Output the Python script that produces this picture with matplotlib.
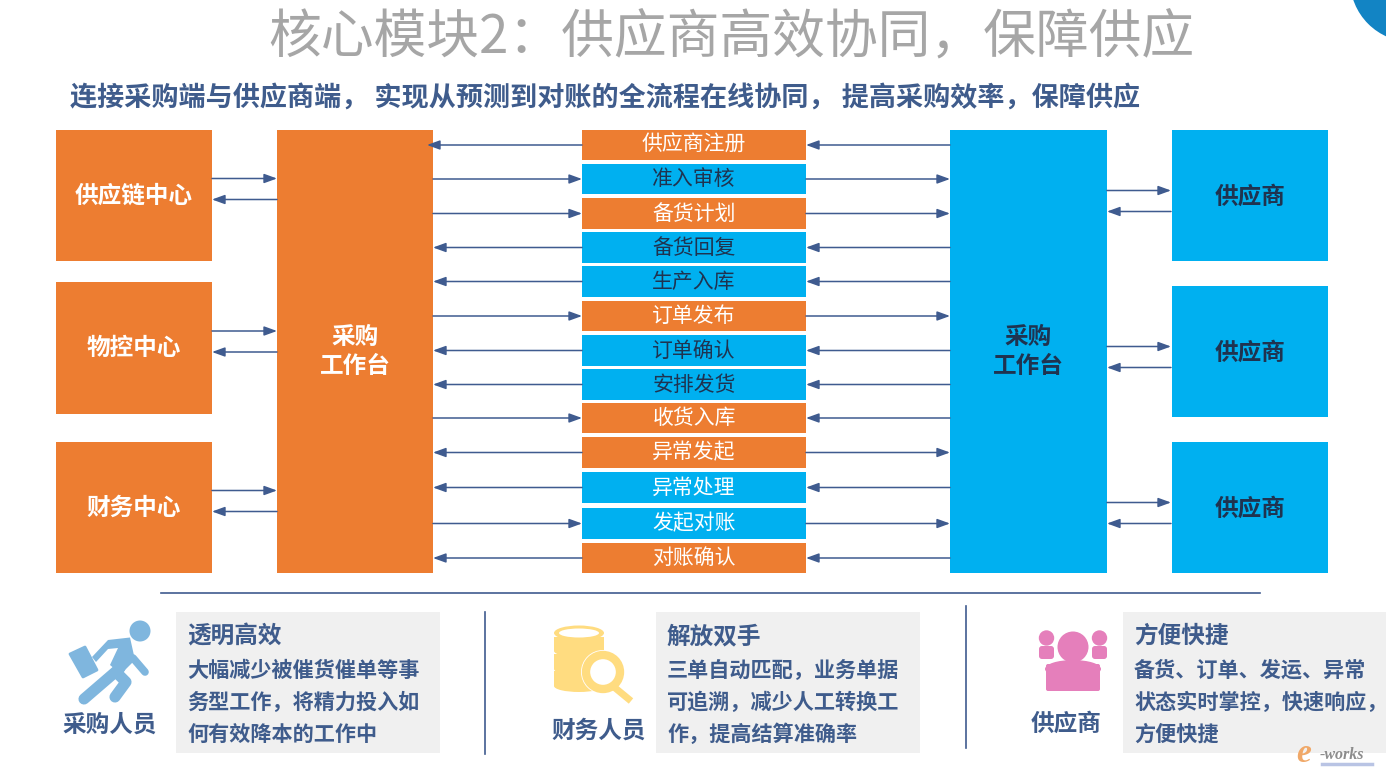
import matplotlib
matplotlib.use("Agg")
import matplotlib.pyplot as plt
from matplotlib.patches import Rectangle, Circle, Wedge, Ellipse, FancyBboxPatch, Polygon

plt.rcParams['font.family'] = ['Noto Sans CJK SC', 'DejaVu Sans']

ORANGE = '#ED7D31'
BLUE = '#00B0F0'
NAVY = '#44546A'
TEXTB = '#3F5C8C'
LINE = '#3F5B8F'
GREY = '#F0F0F0'

title = '核心模块2：供应商高效协同，保障供应'
subtitle = '连接采购端与供应商端， 实现从预测到对账的全流程在线协同， 提高采购效率，保障供应'

steps = ['供应商注册', '准入审核', '备货计划', '备货回复', '生产入库', '订单发布', '订单确认',
         '安排发货', '收货入库', '异常发起', '异常处理', '发起对账', '对账确认']
step_top = [130, 164, 198, 232, 266, 301, 335, 369, 403, 437, 472, 508, 543]
step_bot = [160, 194, 229, 263, 297, 331, 366, 400, 433, 468, 503, 539, 573]
step_fill = ['o', 'b', 'o', 'b', 'b', 'o', 'b', 'b', 'o', 'o', 'b', 'b', 'o']
step_txt = ['w', 'd', 'w', 'd', 'd', 'w', 'd', 'd', 'w', 'w', 'w', 'w', 'w']
left_dir = ['L', 'R', 'R', 'L', 'L', 'R', 'L', 'L', 'R', 'L', 'L', 'R', 'L']
right_dir = ['L', 'R', 'R', 'L', 'L', 'R', 'L', 'L', 'L', 'R', 'L', 'R', 'L']

centers = ['供应链中心', '物控中心', '财务中心']
center_y = [(130, 261), (282, 414), (442, 573)]
suppliers = ['供应商', '供应商', '供应商']
supplier_y = [(130, 261), (286, 417), (442, 573)]

panels = [
    (176, 264, '透明高效', ['大幅减少被催货催单等事', '务型工作，将精力投入如', '何有效降本的工作中']),
    (656, 264, '解放双手', ['三单自动匹配，业务单据', '可追溯，减少人工转换工', '作，提高结算准确率']),
    (1123, 263, '方便快捷', ['备货、订单、发运、异常', '状态实时掌控，快速响应，', '方便快捷']),
]
roles = [('采购人员', 110, 725), ('财务人员', 599, 731), ('供应商', 1066, 724)]

fig = plt.figure(figsize=(13.86, 7.77), dpi=100)
ax = fig.add_axes([0, 0, 1, 1])
ax.set_xlim(0, 1386)
ax.set_ylim(777, 0)
ax.axis('off')


def box(x0, y0, x1, y1, c, **kw):
    ax.add_patch(Rectangle((x0, y0), x1 - x0, y1 - y0, fc=c, ec='none', **kw))


def arrow(x0, x1, y):
    ax.annotate('', xy=(x1, y), xytext=(x0, y),
                arrowprops=dict(arrowstyle='-|>,head_length=0.55,head_width=0.2', color=LINE,
                                lw=1.1, shrinkA=0, shrinkB=0, mutation_scale=14))


# title
ax.add_patch(Circle((1412, -20), 62, fc='#1284C4', ec='none'))
ax.text(731, 38, title, ha='center', va='center', fontsize=38, color='#A6A6A6', family=['Noto Sans CJK SC', 'DejaVu Sans'], fontweight='light')
ax.text(605, 98, subtitle, ha='center', va='center', fontsize=19.5, color=TEXTB, fontweight='bold')

# left column
for name, (a, b) in zip(centers, center_y):
    box(56, a, 212, b, ORANGE)
    ax.text(134, (a + b) / 2, name, ha='center', va='center', fontsize=17, color='white', fontweight='bold')
    m = (a + b) / 2
    arrow(212, 277, m - 17)
    arrow(277, 212, m + 4)
box(277, 130, 433, 573, ORANGE)
ax.text(355, 337, '采购', ha='center', va='center', fontsize=17, color='white', fontweight='bold')
ax.text(355, 366, '工作台', ha='center', va='center', fontsize=17, color='white', fontweight='bold')

# right column
box(950, 130, 1107, 573, BLUE)
ax.text(1028, 337, '采购', ha='center', va='center', fontsize=17, color='#1F3350', fontweight='bold')
ax.text(1028, 366, '工作台', ha='center', va='center', fontsize=17, color='#1F3350', fontweight='bold')
for name, (a, b) in zip(suppliers, supplier_y):
    box(1172, a, 1328, b, BLUE)
    m = (a + b) / 2
    ax.text(1250, m + 1, name, ha='center', va='center', fontsize=17, color='#1F3350', fontweight='bold')
    arrow(1107, 1171, m - 5)
    arrow(1171, 1107, m + 16)

# middle steps
for i, s in enumerate(steps):
    t, b = step_top[i], step_bot[i]
    m = (t + b) / 2
    box(582, t, 806, b, ORANGE if step_fill[i] == 'o' else BLUE)
    ax.text(694, m, s, ha='center', va='center', fontsize=15, color='white' if step_txt[i] == 'w' else '#1F3350')
    if left_dir[i] == 'R':
        arrow(433, 582, m)
    else:
        arrow(582, 427 if i == 0 else 433, m)
    if right_dir[i] == 'R':
        arrow(806, 950, m)
    else:
        arrow(950, 806, m)

# separators
ax.plot([161, 1260], [593, 593], color=LINE, lw=1.2)
ax.plot([484.5, 484.5], [612, 754], color=LINE, lw=1.2)
ax.plot([965.5, 965.5], [606, 748], color=LINE, lw=1.2)

# panels
for x, w, head, lines in panels:
    box(x, 612, x + w, 753, GREY)
    ax.text(x + 11, 636, head, ha='left', va='center', fontsize=17, color=TEXTB, fontweight='bold')
    for j, l in enumerate(lines):
        ax.text(x + 11, 670 + j * 32, l, ha='left', va='center', fontsize=15.2, color=TEXTB, fontweight='bold')
for name, x, y in roles:
    ax.text(x, y, name, ha='center', va='center', fontsize=17, color=TEXTB, fontweight='bold')

# runner icon
RUN = '#7FB6DE'
ax.add_patch(Circle((140, 631), 10.5, fc=RUN, ec='none'))
ax.add_patch(Polygon([(108, 640), (130, 637.5), (135, 660), (121, 674), (110, 665), (118, 648), (108, 649), (96, 662), (92, 657)], fc=RUN, ec='none'))
for seg, lw in [([(120, 668), (84, 699)], 8), ([(116, 672), (126, 682), (115, 697)], 8), ([(133, 658), (145, 672)], 5.5)]:
    ax.plot(*zip(*seg), color=RUN, lw=lw, solid_capstyle='round', solid_joinstyle='round')
ax.add_patch(Polygon([(70, 654), (85, 647), (97, 670), (83, 677)], fc=RUN, ec=RUN, lw=2, joinstyle='round'))

# data / magnifier icon
Y = '#FFDC80'
cx = 579
for yy in (655, 672):
    ax.add_patch(Rectangle((cx - 25, yy - 18), 50, 22, fc='white', ec='none'))
for yy0, yy1 in [(634, 648), (651, 666), (668, 683)]:
    ax.add_patch(Rectangle((cx - 25, yy0 + 3), 50, yy1 - yy0, fc=Y, ec='none'))
    ax.add_patch(Ellipse((cx, yy1 + 3), 50, 12, fc=Y, ec='none'))
for yy in (647, 664):
    ax.add_patch(Ellipse((cx, yy - 4), 50, 13, fc=Y, ec='none'))
ax.add_patch(Ellipse((cx, 633), 50, 15, fc=Y, ec='none'))
ax.add_patch(Ellipse((cx, 633), 40, 9, fc='white', ec='none'))
ax.plot([cx - 22, cx + 22], [650, 650], color='white', lw=0)
ax.add_patch(Circle((603, 672), 22, fc='white', ec='none'))
ax.plot([614, 631], [687, 701], color=Y, lw=5, solid_capstyle='butt')
ax.add_patch(Circle((603, 672), 17, fc='white', ec=Y, lw=6))

# people icon
P = '#E57FBB'
ax.add_patch(Circle((1073, 647), 15.5, fc=P, ec='none'))
ax.add_patch(FancyBboxPatch((1046, 664), 54, 27, boxstyle='round,pad=0,rounding_size=2', fc=P, ec='none'))
ax.add_patch(Ellipse((1073, 669), 56, 18, fc=P, ec='none'))
for c in (1046.5, 1099.5):
    ax.add_patch(Circle((c, 638), 7.7, fc=P, ec='none'))
    ax.add_patch(FancyBboxPatch((c - 7.5, 646), 15, 13, boxstyle='round,pad=0,rounding_size=3', fc=P, ec='none'))
ax.add_patch(Wedge((1073, 647), 19, 20, 160, width=3, fc='white', ec='none', alpha=0))

# watermark
ax.text(1304, 754, 'e', fontsize=24, color='#F0A868', style='italic', family='Liberation Serif', fontweight='bold', ha='center', va='center')
ax.text(1342, 755, '-works', fontsize=11.5, color='#8C8C8C', style='italic', family='Liberation Serif', fontweight='bold', ha='center', va='center')
ax.plot([1322, 1372], [764, 764], color='#B9C4E4', lw=2.5)

fig.savefig('out.png', dpi=100)
